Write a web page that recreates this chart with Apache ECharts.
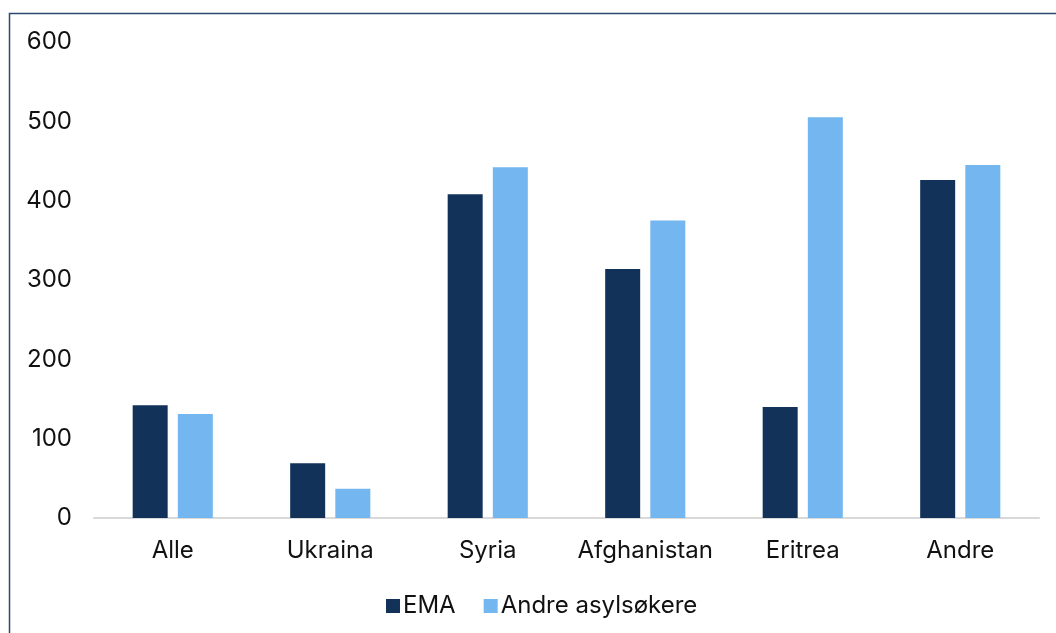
<!DOCTYPE html>
<html><head><meta charset="utf-8">
<script src="https://cdn.jsdelivr.net/npm/echarts@6/dist/echarts.min.js"></script>
<style>html,body{margin:0;padding:0;background:#fff}#c{width:1056px;height:633px}</style>
</head><body><div id="c"></div>
<script>
const categories = ['Alle','Ukraina','Syria','Afghanistan','Eritrea','Andre'];
const emaValues = [142, 69, 408, 314, 140, 426];
const andreValues = [131, 37, 442, 375, 505, 445];
const seriesNames = ['EMA','Andre asylsøkere'];
const yTicks = {min:0, max:600, interval:100};

const chart = echarts.init(document.getElementById('c'), null, {renderer:'canvas'});
const font = 'Inter';
chart.setOption({
  animation:false,
  textStyle:{fontFamily:font},
  graphic:[{type:'rect', shape:{x:9.5,y:13.5,width:1200,height:800}, style:{fill:'none',stroke:'#2c4a6e',lineWidth:1.5}, z:-1}],
  grid:{left:94,right:17,top:42,bottom:115,containLabel:false},
  legend:{top:589,left:381,itemWidth:14,itemHeight:14,itemGap:28,
    data:seriesNames,
    icon:'rect',
    textStyle:{fontSize:24,color:'#111',fontFamily:font,padding:[0,0,0,-2]}},
  xAxis:{type:'category',data:categories,
    axisLine:{lineStyle:{color:'#d9d9d9',width:2}},
    axisTick:{show:false},
    axisLabel:{fontSize:24,color:'#111',margin:21,interval:0,fontFamily:font}},
  yAxis:{type:'value',min:yTicks.min,max:yTicks.max,interval:yTicks.interval,
    splitLine:{show:false},axisLine:{show:false},axisTick:{show:false},
    axisLabel:{fontSize:24,color:'#111',margin:22,fontFamily:font}},
  series:[
    {name:seriesNames[0],type:'bar',data:emaValues,barWidth:35,barGap:'29%',
      itemStyle:{color:'#12325a'}},
    {name:seriesNames[1],type:'bar',data:andreValues,barWidth:35,
      itemStyle:{color:'#73b6f0'}}
  ]
});
</script></body></html>
